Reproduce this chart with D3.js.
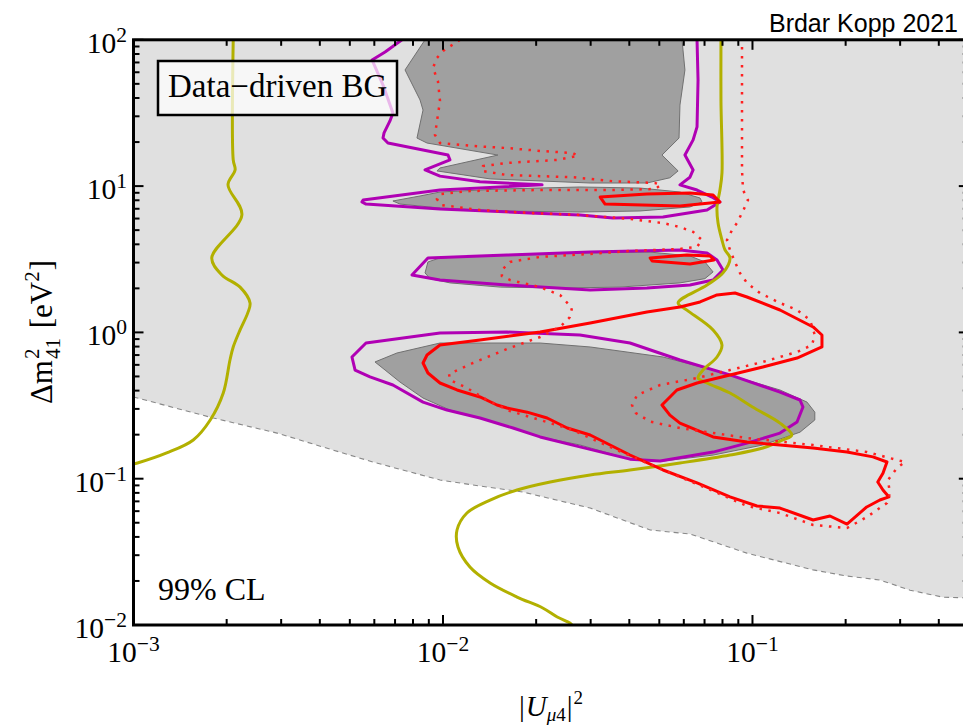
<!DOCTYPE html>
<html>
<head>
<meta charset="utf-8">
<script src="https://cdn.jsdelivr.net/npm/d3@7"></script>
<style>
  body { margin: 0; background: #ffffff; }
  svg { display: block; }
</style>
</head>
<body>
<div id="chart"></div>
<script>
// ---------- axes ----------
const xDomain = [1e-3, 0.5];          // |U_mu4|^2
const yDomain = [1e-2, 100];          // Delta m^2_41 [eV^2]
const xMajorTicks = [1e-3, 1e-2, 1e-1];
const xTickLabels = ["10", "10", "10"];
const xTickExponents = ["\u22123", "\u22122", "\u22121"];
const yMajorTicks = [1e-2, 1e-1, 1, 10, 100];
const yTickLabels = ["10", "10", "10", "10", "10"];
const yTickExponents = ["\u22122", "\u22121", "0", "1", "2"];

// ---------- contours: [ |U_mu4|^2 , Delta m^2_41 ] ----------
// lower edge of the light grey (kinematically accessible) band
const accessibleEdge = [[0.001,0.362],[0.00181,0.260],[0.00291,0.205],[0.00441,0.157],[0.00594,0.130],
  [0.00978,0.098],[0.0132,0.0891],[0.0181,0.0811],[0.0299,0.063],[0.0467,0.0446],[0.0628,0.0419],
  [0.0959,0.031],[0.157,0.0238],[0.202,0.0216],[0.258,0.0203],[0.323,0.0173],[0.412,0.0155],[0.5,0.0153]];

// dark grey preferred islands
const islandTop = [[0.00875,100],[0.00754,62.2],[0.00843,38.8],[0.00862,33.1],[0.00824,21.3],[0.00888,19.7],
  [0.01505,16.3],[0.00978,13.3],[0.00956,12.7],[0.0142,11.2],[0.0299,10.5],[0.0456,10.5],[0.0541,11.4],
  [0.0575,12.7],[0.0510,16.3],[0.0579,21.3],[0.0583,35.8],[0.0605,62.2],[0.0592,100]];
const islandUpperBand = [[0.00689,7.91],[0.00843,8.56],[0.00978,9.11],[0.0153,9.55],[0.0277,9.86],[0.0433,9.70],
  [0.0583,9.11],[0.0677,8.29],[0.0687,7.79],[0.0628,7.20],[0.0433,6.76],[0.0277,6.65],[0.0153,6.76],
  [0.00978,7.08],[0.00726,7.54]];
const islandMiddleBand = [[0.00875,2.55],[0.00894,3.03],[0.00978,3.23],[0.0153,3.38],[0.0277,3.49],[0.0467,3.54],
  [0.0628,3.33],[0.0702,3.03],[0.0746,2.59],[0.0702,2.33],[0.0583,2.18],[0.0373,2.04],[0.0239,2.01],
  [0.0153,2.04],[0.01053,2.18],[0.00908,2.33]];
const islandLower = [[0.00603,0.628],[0.0071,0.723],[0.00978,0.846],[0.0206,0.846],[0.0299,0.795],[0.0514,0.679],
  [0.0746,0.553],[0.1227,0.404],[0.150,0.334],[0.159,0.285],[0.159,0.252],[0.1424,0.208],[0.108,0.170],
  [0.0746,0.145],[0.0514,0.132],[0.0393,0.138],[0.0277,0.170],[0.0206,0.193],[0.01317,0.260],
  [0.01053,0.2945],[0.00862,0.356],[0.00726,0.458],[0.0065,0.553]];

// purple contours
const purpleUpper = [[0.00737,100],[0.0065,82.5],[0.0059,72.8],[0.0064,49.1],[0.00689,31.6],[0.00674,27.9],
  [0.00645,23.1],[0.0064,21.3],[0.00664,19.7],[0.01038,16.3],[0.01053,15.1],[0.00875,12.9],[0.00978,11.7],
  [0.01317,10.7],[0.0209,10.2],[0.00978,9.40],[0.00552,8.03],[0.00547,7.79],[0.00564,7.54],[0.00978,6.97],
  [0.0191,6.55],[0.0277,6.35],[0.0354,6.05],[0.0514,6.15],[0.0713,6.86],[0.0785,7.79],[0.074,8.42],
  [0.0662,9.40],[0.0583,10.2],[0.0628,11.5],[0.0643,12.9],[0.0605,16.3],[0.0643,20.7],[0.0662,25.4],
  [0.0667,53.1],[0.0662,100]];
const purpleMiddle = [[0.00894,3.23],[0.0161,3.38],[0.0299,3.54],[0.0583,3.66],[0.0713,3.49],[0.0768,3.13],
  [0.0803,2.67],[0.0746,2.28],[0.0628,2.11],[0.0456,2.01],[0.0299,1.95],[0.0161,2.11],[0.00978,2.28],[0.00794,2.47]];
const purpleLower = [[0.00564,0.846],[0.00978,0.991],[0.0161,1.006],[0.0277,0.960],[0.0402,0.846],[0.0583,0.648],
  [0.0846,0.512],[0.1227,0.391],[0.1424,0.345],[0.1456,0.309],[0.1393,0.244],[0.1227,0.205],[0.096,0.175],
  [0.0746,0.152],[0.0503,0.132],[0.0402,0.136],[0.0277,0.165],[0.0206,0.193],[0.01684,0.222],[0.01317,0.260],
  [0.0103,0.2945],[0.00862,0.334],[0.00689,0.437],[0.00581,0.496],[0.0052,0.553],[0.00508,0.679]];

// red solid contours
const redUpper = [[0.0322,8.42],[0.0456,8.83],[0.0628,8.97],[0.0746,8.69],[0.0785,7.79],[0.0583,7.31],[0.0334,7.54]];
const redMiddle = [[0.0467,3.23],[0.0614,3.38],[0.0729,3.33],[0.0751,3.13],[0.0628,2.93],[0.0474,3.08]];
const redLower = [[0.00978,0.820],[0.01317,0.887],[0.0206,1.006],[0.0299,1.159],[0.0456,1.379],[0.0583,1.491],
  [0.0677,1.614],[0.0768,1.802],[0.0878,1.859],[0.096,1.746],[0.1227,1.423],[0.157,1.089],[0.1677,0.960],
  [0.1677,0.795],[0.1393,0.668],[0.108,0.580],[0.0846,0.512],[0.0662,0.451],[0.057,0.404],[0.051,0.319],
  [0.0541,0.272],[0.0583,0.240],[0.0746,0.193],[0.096,0.178],[0.1227,0.170],[0.157,0.162],[0.202,0.152],
  [0.245,0.141],[0.272,0.130],[0.264,0.109],[0.254,0.0949],[0.264,0.0837],[0.276,0.0751],[0.258,0.0715],
  [0.234,0.0641],[0.202,0.049],[0.178,0.0556],[0.157,0.0522],[0.1227,0.063],[0.1034,0.0651],[0.0846,0.0751],
  [0.0662,0.0935],[0.0514,0.1147],[0.0402,0.1452],[0.0299,0.1989],[0.0252,0.222],[0.0217,0.260],
  [0.0187,0.285],[0.0161,0.304],[0.01494,0.319],[0.01317,0.362],[0.0111,0.404],[0.00978,0.451],
  [0.00894,0.528],[0.00862,0.618],[0.00888,0.701]];

// red dotted contour
const redDotted = [[0.01135,100],[0.01,83.8],[0.00956,75.1],[0.00928,64.2],[0.00963,52.3],[0.00978,38.2],
  [0.00963,30.6],[0.00942,22.4],[0.00978,19.7],[0.0125,18.8],[0.0161,18.2],[0.0206,17.4],[0.0263,16.8],
  [0.0273,16.1],[0.0234,15.1],[0.0161,14.4],[0.01347,13.7],[0.01337,12.7],[0.0161,11.9],[0.0263,11.5],
  [0.0354,10.8],[0.0484,10.5],[0.0506,10.17],[0.0484,9.55],[0.0354,9.40],[0.0206,9.40],[0.01222,9.26],
  [0.00985,8.83],[0.00956,8.16],[0.00985,7.43],[0.01317,6.86],[0.0191,6.55],[0.0277,6.35],[0.0402,5.96],
  [0.0514,5.59],[0.0583,5.25],[0.0643,4.86],[0.0687,4.28],[0.0662,3.84],[0.0583,3.72],[0.0402,3.60],
  [0.0299,3.44],[0.0206,3.28],[0.01647,3.03],[0.0155,2.67],[0.0155,2.43],[0.01647,2.28],[0.0206,2.04],
  [0.0239,1.80],[0.0261,1.47],[0.0257,1.27],[0.0239,1.09],[0.0206,0.930],[0.0161,0.770],[0.0125,0.618],
  [0.01046,0.520],[0.01053,0.473],[0.01195,0.417],[0.01388,0.345],[0.01647,0.290],[0.0206,0.252],
  [0.0263,0.215],[0.0346,0.165],[0.0456,0.128],[0.0583,0.1027],[0.0746,0.0824],[0.096,0.0651],
  [0.1227,0.0583],[0.157,0.0483],[0.202,0.0460],[0.234,0.0547],[0.272,0.0682],[0.278,0.0798],[0.274,0.098],
  [0.293,0.1183],[0.311,0.130],[0.234,0.1522],[0.157,0.1698],[0.096,0.1897],[0.0583,0.222],[0.0467,0.2456],
  [0.042,0.281],[0.0408,0.319],[0.0424,0.373],[0.0503,0.437],[0.0662,0.488],[0.0846,0.553],[0.108,0.628],
  [0.1393,0.7345],[0.1557,0.820],[0.159,0.960],[0.1534,1.216],[0.1393,1.423],[0.1227,1.589],[0.1057,1.859],
  [0.096,2.176],[0.0911,2.547],[0.0878,3.03],[0.0846,3.658],[0.0827,4.28],[0.0859,5.01],[0.0891,5.59],
  [0.0932,6.76],[0.0967,8.03],[0.0932,9.40],[0.0925,12.9],[0.0925,38.8],[0.0925,100]];

// olive exclusion curves
const oliveLeft = [[0.0021,100],[0.0021,15.1],[0.00213,12.9],[0.00202,10.2],[0.00224,6.35],[0.00179,3.23],
  [0.00193,2.47],[0.00221,2.04],[0.00238,1.59],[0.00234,1.36],[0.00221,1.04],[0.0021,0.795],[0.00205,0.648],
  [0.00195,0.385],[0.00177,0.252],[0.00156,0.184],[0.00128,0.150],[0.00103,0.128],[0.001,0.126]];
const oliveRight = [[0.0791,100],[0.0791,38.8],[0.0797,12.3],[0.0785,9.40],[0.0768,7.20],[0.0774,5.59],
  [0.0797,4.28],[0.0815,3.66],[0.0846,3.23],[0.0803,2.55],[0.0713,2.11],[0.0575,1.59],[0.0614,1.42],
  [0.0746,1.04],[0.0797,0.820],[0.0768,0.679],[0.0692,0.553],[0.0667,0.488],[0.0713,0.451],[0.0846,0.385],
  [0.100,0.309],[0.1227,0.240],[0.134,0.199],[0.1254,0.184],[0.108,0.162],[0.0846,0.145],[0.0583,0.128],
  [0.0402,0.1147],[0.0299,0.106],[0.0222,0.0949],[0.01735,0.0837],[0.0142,0.0715],[0.01195,0.0583],
  [0.0111,0.0446],[0.01118,0.0341],[0.01222,0.0249],[0.0142,0.01937],[0.01735,0.01553],[0.021,0.01307],
  [0.0234,0.01134],[0.0257,0.01032],[0.0261,0.01]];

// ---------- layout ----------
const W = 963, H = 727;
const plot = { left: 133.5, right: 968.8, top: 39.8, bottom: 625 };
const serif = "'Liberation Serif', 'Times New Roman', Times, serif";
const sans = "'Liberation Sans', Arial, Helvetica, sans-serif";

const svg = d3.select("#chart").append("svg")
  .attr("width", W).attr("height", H)
  .attr("viewBox", `0 0 ${W} ${H}`);

const x = d3.scaleLog().domain(xDomain).range([plot.left, plot.right]);
const y = d3.scaleLog().domain(yDomain).range([plot.bottom, plot.top]);

svg.append("defs").append("clipPath").attr("id", "plotClip")
  .append("rect")
  .attr("x", plot.left).attr("y", plot.top)
  .attr("width", plot.right - plot.left).attr("height", plot.bottom - plot.top);

const area = svg.append("g").attr("clip-path", "url(#plotClip)");

const line = d3.line().x(d => x(d[0])).y(d => y(d[1]));
const smooth = d3.line().x(d => x(d[0])).y(d => y(d[1])).curve(d3.curveCatmullRom.alpha(0.5));
const closed = pts => line(pts) + "Z";

// light grey band above the edge
const bandPts = [[xDomain[0], yDomain[1]], ...accessibleEdge, [xDomain[1], yDomain[1]]];
area.append("path").attr("d", closed(bandPts)).attr("fill", "#e0e0e0");
area.append("path").attr("d", line(accessibleEdge))
  .attr("fill", "none").attr("stroke", "#888888").attr("stroke-width", 1.1)
  .attr("stroke-dasharray", "5,4");

// dark grey islands
[islandTop, islandUpperBand, islandMiddleBand, islandLower].forEach(pts => {
  area.append("path").attr("d", closed(pts))
    .attr("fill", "#a0a0a0").attr("stroke", "#707070").attr("stroke-width", 1);
});

// purple contours
area.append("path").attr("d", line(purpleUpper))
  .attr("fill", "none").attr("stroke", "#b000b4").attr("stroke-width", 3).attr("stroke-linejoin", "round");
[purpleMiddle, purpleLower].forEach(pts => {
  area.append("path").attr("d", closed(pts))
    .attr("fill", "none").attr("stroke", "#b000b4").attr("stroke-width", 3).attr("stroke-linejoin", "round");
});

// olive curves
[oliveLeft, oliveRight].forEach(pts => {
  area.append("path").attr("d", smooth(pts))
    .attr("fill", "none").attr("stroke", "#b2b000").attr("stroke-width", 3).attr("stroke-linejoin", "round");
});

// red solid contours
[redUpper, redMiddle, redLower].forEach(pts => {
  area.append("path").attr("d", closed(pts))
    .attr("fill", "none").attr("stroke", "#ff0000").attr("stroke-width", 3).attr("stroke-linejoin", "round");
});

// red dotted contour
area.append("path").attr("d", line(redDotted))
  .attr("fill", "none").attr("stroke", "#ff2020").attr("stroke-width", 2.5)
  .attr("stroke-dasharray", "2.5,6.5");

// ---------- frame and ticks ----------
const frame = svg.append("g").attr("stroke", "#000");
const isMajor = v => Math.abs(Math.log10(v) - Math.round(Math.log10(v))) < 1e-9;

x.ticks().forEach(v => {
  const len = isMajor(v) ? 10 : 6;
  const px = x(v);
  frame.append("line").attr("x1", px).attr("x2", px).attr("y1", plot.bottom).attr("y2", plot.bottom - len).attr("stroke-width", 2);
  frame.append("line").attr("x1", px).attr("x2", px).attr("y1", plot.top).attr("y2", plot.top + len).attr("stroke-width", 2);
});
y.ticks().forEach(v => {
  const len = isMajor(v) ? 10 : 6;
  const py = y(v);
  frame.append("line").attr("y1", py).attr("y2", py).attr("x1", plot.left).attr("x2", plot.left + len).attr("stroke-width", 2);
  frame.append("line").attr("y1", py).attr("y2", py).attr("x1", plot.right).attr("x2", plot.right - len).attr("stroke-width", 2);
});

frame.append("rect")
  .attr("x", plot.left).attr("y", plot.top)
  .attr("width", plot.right - plot.left).attr("height", plot.bottom - plot.top)
  .attr("fill", "none").attr("stroke-width", 3);

// tick labels: 10 with a raised exponent
function powerLabel(g, px, py, base, exp, anchor) {
  const t = g.append("text")
    .attr("x", px).attr("y", py)
    .attr("text-anchor", anchor)
    .attr("font-family", serif).attr("font-size", 29.5).attr("fill", "#000");
  t.append("tspan").text(base);
  t.append("tspan").attr("font-size", 21.5).attr("dy", -11).text(exp);
}
const labels = svg.append("g");
xMajorTicks.forEach((v, i) => powerLabel(labels, x(v), 662, xTickLabels[i], xTickExponents[i], "middle"));
yMajorTicks.forEach((v, i) => powerLabel(labels, 127, y(v) + 13, yTickLabels[i], yTickExponents[i], "end"));

// ---------- axis titles ----------
function addPiece(g, txt, px, py, size, italic) {
  const t = g.append("text").attr("x", px).attr("y", py)
    .attr("font-family", serif).attr("font-size", size)
    .attr("font-style", italic ? "italic" : "normal").attr("fill", "#000").text(txt);
  return t.node().getComputedTextLength();
}

// x title: |U_{mu4}|^2
{
  const g = svg.append("g");
  let cx = 0;
  cx += addPiece(g, "|", cx, 0, 29, false) + 1;
  cx += addPiece(g, "U", cx, 0, 29, true);
  cx += addPiece(g, "\u03bc", cx, 5, 19, true);
  cx += addPiece(g, "4", cx, 5, 19, false) + 1;
  cx += addPiece(g, "|", cx, 0, 29, false) + 1;
  cx += addPiece(g, "2", cx, -12, 19, false);
  g.attr("transform", `translate(${551 - cx / 2},716)`);
}

// y title: Delta m^2_41 [eV^2], rotated
{
  const outer = svg.append("g").attr("transform", "translate(52,332) rotate(-90)");
  const g = outer.append("g");
  let cx = 0;
  cx += addPiece(g, "\u0394m", cx, 0, 31, false) + 1;
  const w2 = addPiece(g, "2", cx, -13, 21, false);
  const w41 = addPiece(g, "41", cx, 8, 21, false);
  cx += Math.max(w2, w41) + 2;
  cx += addPiece(g, "\u00a0[eV", cx, 0, 31, false);
  cx += addPiece(g, "2", cx, -13, 21, false) + 1;
  cx += addPiece(g, "]", cx, 0, 31, false);
  g.attr("transform", `translate(${-cx / 2},0)`);
}

// ---------- annotations ----------
svg.append("rect")
  .attr("x", 158).attr("y", 61).attr("width", 239).attr("height", 54)
  .attr("fill", "#ffffff").attr("fill-opacity", 0.72)
  .attr("stroke", "#000").attr("stroke-width", 2.5);
svg.append("text")
  .attr("x", 168).attr("y", 97)
  .attr("font-family", serif).attr("font-size", 33).attr("fill", "#000")
  .text("Data\u2212driven BG");

svg.append("text")
  .attr("x", 158).attr("y", 600)
  .attr("font-family", serif).attr("font-size", 32).attr("fill", "#000")
  .text("99% CL");

svg.append("text")
  .attr("x", 958).attr("y", 32).attr("text-anchor", "end")
  .attr("font-family", sans).attr("font-size", 25).attr("fill", "#000")
  .text("Brdar Kopp 2021");
</script>
</body>
</html>
